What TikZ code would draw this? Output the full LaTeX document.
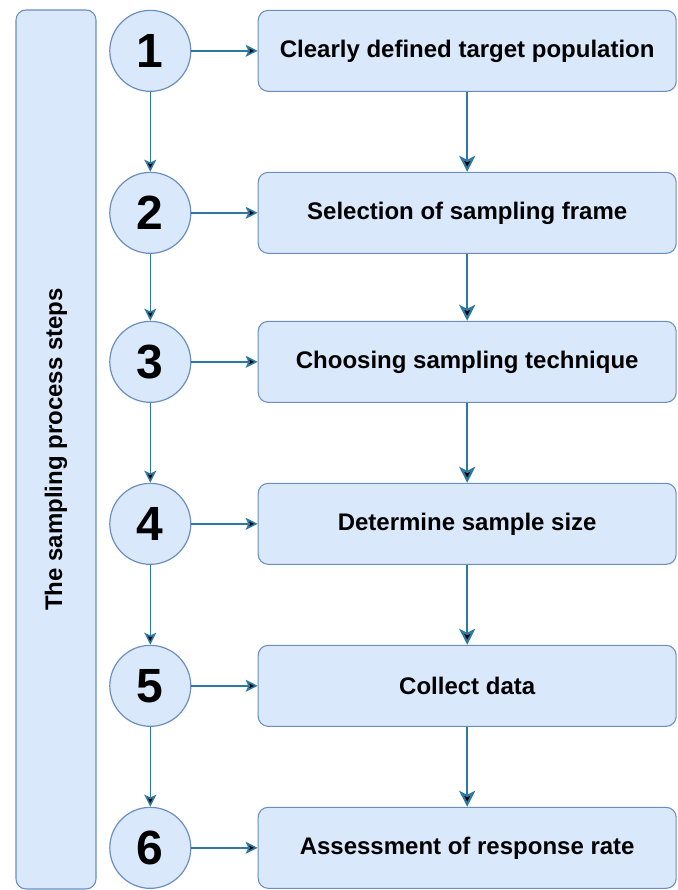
\documentclass[tikz,border=0pt]{standalone}
\usepackage{fontspec}
\setmainfont{Liberation Sans}
\usepackage{tikz}
\usetikzlibrary{matrix,arrows.meta}

\definecolor{boxfill}{HTML}{DAE8FC}
\definecolor{boxline}{HTML}{6C8EBF}
\definecolor{flow}{HTML}{2E78A4}

\begin{document}
\begin{tikzpicture}[
  numnode/.style={circle, draw=boxline, fill=boxfill, line width=0.9pt, minimum size=60.75pt, inner sep=0pt, font=\bfseries\fontsize{36}{36}\selectfont},
  taskbox/.style={rectangle, rounded corners=7.5pt, draw=boxline, fill=boxfill, line width=0.8pt, minimum width=313.5pt, minimum height=60.75pt, font=\bfseries\fontsize{18}{20}\selectfont},
  thin flow/.style={draw=flow, line width=1.2pt, -{Stealth[length=9pt,width=9pt,inset=2pt]}},
  thick flow/.style={draw=flow, line width=1.6pt, -{Stealth[length=12pt,width=12pt,inset=3pt]}}
]
  \useasboundingbox (0,0) rectangle (508.5pt,-667.5pt);
  \node (side) [taskbox, minimum width=659.25pt, minimum height=60pt, rotate=90] at (42pt,-337.1pt) {The sampling process steps};
  \matrix (m) [matrix of nodes, anchor=north west, inner sep=0pt, row sep=59.85pt, column sep=49.7pt,
    nodes={anchor=center}, column 1/.style={nodes={numnode}}, column 2/.style={nodes={taskbox}}] at (81.7pt,-7.1pt)
  {
	1 & Clearly defined target population \\
	2 & Selection of sampling frame \\[-9.75pt]
	3 & Choosing sampling technique \\
	4 & Determine sample size \\
	5 & Collect data \\
	6 & Assessment of response rate \\
  };
  \path[thin flow]
  (m-1-1) edge (m-1-2)
  (m-2-1) edge (m-2-2)
  (m-3-1) edge (m-3-2)
  (m-4-1) edge (m-4-2)
  (m-5-1) edge (m-5-2)
  (m-6-1) edge (m-6-2)
  (m-1-1) edge (m-2-1)
  (m-2-1) edge (m-3-1)
  (m-3-1) edge (m-4-1)
  (m-4-1) edge (m-5-1)
  (m-5-1) edge (m-6-1)
  ;
  \path[thick flow]
  (m-1-2) edge (m-2-2)
  (m-2-2) edge (m-3-2)
  (m-3-2) edge (m-4-2)
  (m-4-2) edge (m-5-2)
  (m-5-2) edge (m-6-2)
  ;
\end{tikzpicture}
\end{document}
